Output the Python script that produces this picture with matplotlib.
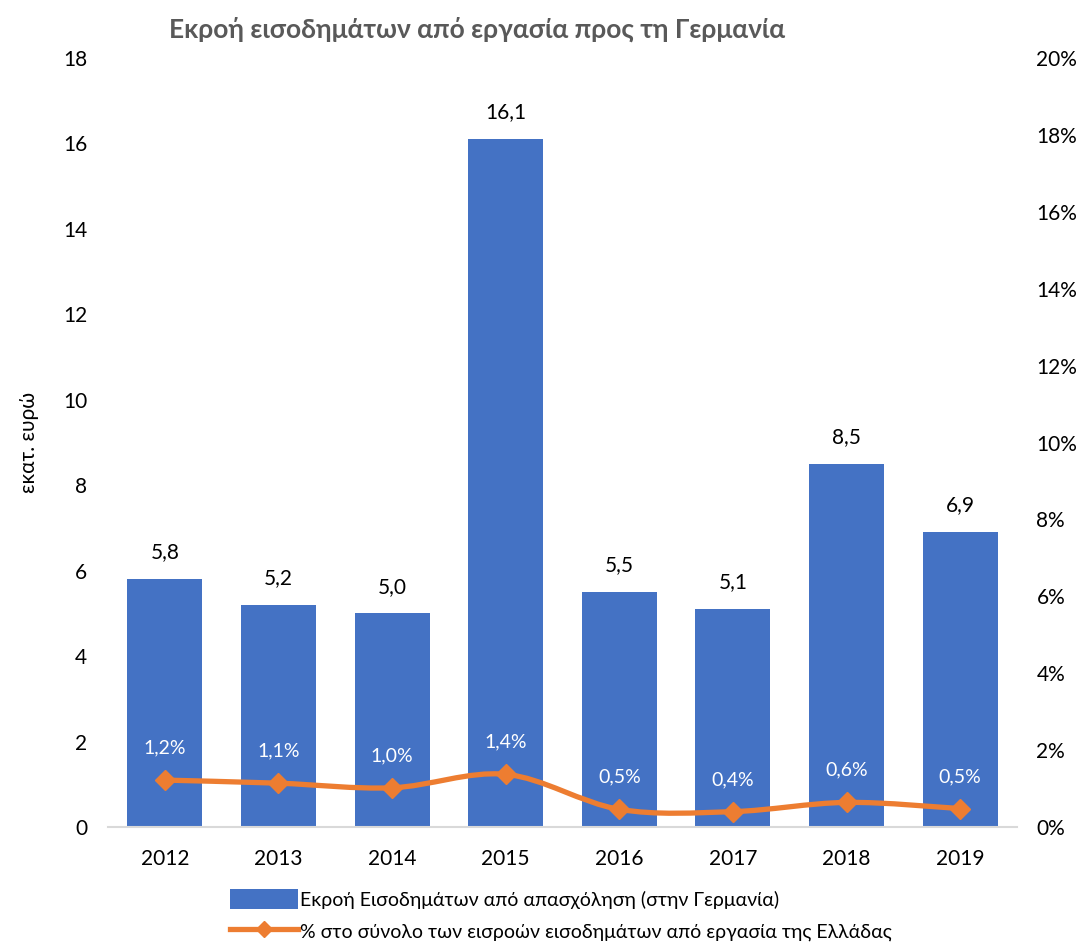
import matplotlib
matplotlib.use('Agg')
import matplotlib.pyplot as plt
from matplotlib.path import Path
from matplotlib.patches import PathPatch, Patch
from matplotlib.lines import Line2D
from matplotlib.ticker import FuncFormatter

plt.rcParams['font.family'] = ['Lato', 'Open Sans', 'DejaVu Sans']

years = ['2012', '2013', '2014', '2015', '2016', '2017', '2018', '2019']
outflow = [5.8, 5.2, 5.0, 16.1, 5.5, 5.1, 8.5, 6.9]
share_pct = [1.22, 1.14, 1.02, 1.37, 0.46, 0.40, 0.64, 0.48]
share_labels = ['1,2%', '1,1%', '1,0%', '1,4%', '0,5%', '0,4%', '0,6%', '0,5%']

title = 'Εκροή εισοδημάτων από εργασία προς τη Γερμανία'
bar_name = 'Εκροή Εισοδημάτων από απασχόληση (στην Γερμανία)'
line_name = '% στο σύνολο των εισροών εισοδημάτων από εργασία της Ελλάδας'

BLUE = '#4472C4'
ORANGE = '#ED7D31'


def smooth_path(xs, ys):
    # catmull-rom style bezier through the points, like excel's smoothed line
    pts = list(zip(xs, ys))
    verts = [pts[0]]
    codes = [Path.MOVETO]
    n = len(pts)
    for i in range(n - 1):
        p0 = pts[i - 1] if i > 0 else pts[i]
        p1 = pts[i]
        p2 = pts[i + 1]
        p3 = pts[i + 2] if i + 2 < n else pts[i + 1]
        c1 = (p1[0] + (p2[0] - p0[0]) / 6, p1[1] + (p2[1] - p0[1]) / 6)
        c2 = (p2[0] - (p3[0] - p1[0]) / 6, p2[1] - (p3[1] - p1[1]) / 6)
        verts += [c1, c2, p2]
        codes += [Path.CURVE4] * 3
    return Path(verts, codes)


fig = plt.figure(figsize=(10.79, 9.43), dpi=100)
ax = fig.add_axes([0.1001, 0.123, 0.8424, 0.8155])
ax2 = ax.twinx()

x = list(range(len(years)))
ax.bar(x, outflow, width=0.66, color=BLUE, zorder=2)
for xi, v in zip(x, outflow):
    ax.annotate(f'{v:.1f}'.replace('.', ','), (xi, v), xytext=(0, 12),
                textcoords='offset points', ha='center', va='bottom',
                fontsize=15, color='#000000')

ax.set_xlim(-0.5, len(years) - 0.5)
ax.set_ylim(0, 18)
ax.set_yticks(range(0, 19, 2))
ax.set_xticks(x)
ax.set_xticklabels(years)
ax.tick_params(axis='both', length=0, labelsize=15, colors='#000000')
ax.tick_params(axis='x', pad=16)
ax.tick_params(axis='y', pad=15)
ax.set_ylabel('εκατ. ευρώ', fontsize=15)
ax.yaxis.set_label_coords(-0.076, 0.5)
for s in ['top', 'right', 'left']:
    ax.spines[s].set_visible(False)
ax.spines['bottom'].set_color('#D9D9D9')
ax.spines['bottom'].set_linewidth(1.5)

ax2.set_ylim(0, 20)
ax2.set_yticks(range(0, 21, 2))
ax2.yaxis.set_major_formatter(FuncFormatter(lambda v, p: f'{v:.0f}%'))
ax2.tick_params(axis='y', length=0, labelsize=15, pad=14)
for s in ax2.spines.values():
    s.set_visible(False)

curve = PathPatch(smooth_path(x, share_pct), transform=ax2.transData,
                  facecolor='none', edgecolor=ORANGE, linewidth=3.8,
                  capstyle='round', joinstyle='round', zorder=3)
ax2.add_patch(curve)
ax2.plot(x, share_pct, linestyle='none', marker='D', markersize=10,
         color=ORANGE, zorder=4)
for xi, v, lab in zip(x, share_pct, share_labels):
    ax2.annotate(lab, (xi, v), xytext=(0, 17), textcoords='offset points',
                 ha='center', va='bottom', fontsize=14, color='white', zorder=5)

fig.text(0.442, 0.969, title, ha='center', va='center', fontsize=19,
         fontweight='bold', color='#595959')

handles = [Patch(facecolor=BLUE, edgecolor='none'),
           Line2D([0], [0], color=ORANGE, linewidth=3.8, marker='D', markersize=8)]
fig.legend(handles, [bar_name, line_name], loc='lower center',
           bbox_to_anchor=(0.52, -0.016), ncol=1, frameon=False, fontsize=14,
           handlelength=3.5, handleheight=1.2, handletextpad=0.1, labelspacing=0.6)

fig.savefig('out.png', dpi=100)
